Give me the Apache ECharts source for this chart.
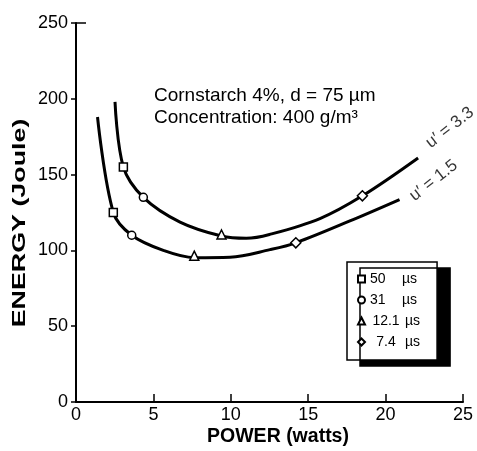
<!DOCTYPE html>
<html>
<head>
<meta charset="utf-8">
<script src="https://cdn.jsdelivr.net/npm/echarts@6/dist/echarts.min.js"></script>
<style>
html,body{margin:0;padding:0;background:#fff;}
#chart{width:477px;height:451px;}
</style>
</head>
<body>
<div id="chart"></div>
<script>
// Curve u' = 3.3 (upper)
const curveUpper = [[2.52,198],[3.06,155],[4.35,135],[6.72,118.7],[9.4,109.5],[11,108],[12.5,110.5],[15.76,121],[18.5,136],[22.1,161]];
// Curve u' = 1.5 (lower)
const curveLower = [[1.39,188],[2.41,125],[3.6,110],[5.64,100],[7.64,95.2],[9.95,95.5],[12.53,100.5],[14.2,105],[17.9,120.3],[20.9,133.5]];
// Markers (spark durations)
const legendNames = ['50 µs','31 µs','12.1 µs','7.4 µs'];
const legendSymbols = ['rect','circle','triangle','diamond'];
const mk50 = [[3.06,155],[2.41,125]];
const mk31 = [[4.35,135],[3.6,110]];
const mk121 = [[9.4,110.5],[7.64,96.5]];
const mk74 = [[18.5,136],[14.2,105]];
const markerData = [mk50, mk31, mk121, mk74];
// Curve labels
const curveLabels = [{text:"u′ = 3.3", pos:[24.15,181]},{text:"u′ = 1.5", pos:[23.1,146]}];
const xTicks = {min:0, max:25, interval:5};
const yTicks = {min:0, max:250, interval:50};
const annotation = ['Cornstarch 4%, d = 75 µm', 'Concentration: 400 g/m³'];
const xName = 'POWER (watts)';
const yName = 'ENERGY (Joule)';

const FONT = '"Liberation Sans", Arial, Helvetica, sans-serif';
const chart = echarts.init(document.getElementById('chart'));

const series = [
  {type:'line', name:'u33', data:curveUpper, smooth:0.35, showSymbol:false, symbol:'none',
   lineStyle:{color:'#000', width:3}, z:2, silent:true},
  {type:'line', name:'u15', data:curveLower, smooth:0.35, showSymbol:false, symbol:'none',
   lineStyle:{color:'#000', width:3}, z:2, silent:true}
];
markerData.forEach((d,i)=>{
  series.push({type:'scatter', name:legendNames[i], data:d, symbol:legendSymbols[i],
    symbolSize: legendSymbols[i]==='diamond'?10:(legendSymbols[i]==='triangle'?9:8),
    itemStyle:{color:'#fff', borderColor:'#000', borderWidth:1.5, opacity:1}, z:5});
});
series.push({type:'scatter', name:'labels', data:curveLabels.map(l=>({value:l.pos, name:l.text})),
  symbolSize:0, z:6, silent:true,
  label:{show:true, position:'inside', formatter:p=>p.name, rotate:38, color:'#000',
    fontFamily:FONT, fontSize:17}});

chart.setOption({
  animation:false,
  backgroundColor:'#fff',
  grid:{left:76, right:14, top:23, bottom:49},
  textStyle:{fontFamily:FONT},
  xAxis:{type:'value', min:xTicks.min, max:xTicks.max, interval:xTicks.interval,
    axisLine:{show:true, onZero:false, lineStyle:{color:'#000', width:2}},
    axisTick:{show:true, inside:true, length:8, lineStyle:{color:'#000', width:1.5}},
    axisLabel:{fontFamily:FONT, fontSize:18, color:'#000', margin:4},
    splitLine:{show:false}},
  yAxis:[{type:'value', min:yTicks.min, max:yTicks.max, interval:yTicks.interval,
    axisLine:{show:true, onZero:false, lineStyle:{color:'#000', width:2}},
    axisTick:{show:true, inside:false, length:5, lineStyle:{color:'#000', width:1.5}},
    axisLabel:{fontFamily:FONT, fontSize:18, color:'#000', margin:8},
    splitLine:{show:false}},
   {type:'value', min:yTicks.min, max:yTicks.max, interval:yTicks.max, position:'left',
    axisLine:{show:false}, axisLabel:{show:false}, splitLine:{show:false},
    axisTick:{show:true, inside:true, length:10, lineStyle:{color:'#000', width:1.5}}}],
  legend:{show:true, data:legendNames, orient:'vertical', left:347, top:262,
    padding:[10,17,11,10], itemGap:7, itemWidth:7, itemHeight:7,
    backgroundColor:'#fff', borderColor:'#000', borderWidth:1.5,
    shadowColor:'#000', shadowBlur:0, shadowOffsetX:13, shadowOffsetY:6,
    itemStyle:{color:'#fff', borderColor:'#000', borderWidth:2},
    selectedMode:false,
    formatter:function(n){
      const parts = n.split(' ');
      const num = parts[0];
      const style = (num==='7.4'||num==='12.1') ? 'r' : 'n';
      return '{'+style+'|'+num+'}{u|µs}';
    },
    textStyle:{fontFamily:FONT, fontSize:14, color:'#000', lineHeight:14,
      rich:{n:{width:32, align:'left', fontSize:14, fontFamily:FONT},
            r:{width:32, align:'right', padding:[0,3,0,0], fontSize:14, fontFamily:FONT},
            u:{fontSize:14, fontFamily:FONT}}}},
  graphic:[
    {type:'text', left:154, top:86, style:{text:annotation[0], fontFamily:FONT, fontSize:19, fill:'#000'}},
    {type:'text', left:154, top:108, style:{text:annotation[1], fontFamily:FONT, fontSize:19, fill:'#000'}},
    {type:'text', x:278, y:437, style:{text:xName, fontFamily:FONT, fontSize:19.5, fontWeight:'bold', fill:'#000', align:'center', verticalAlign:'middle'}},
    {type:'text', x:20, y:223, rotation:Math.PI/2, scaleX:1.45, style:{text:yName, fontFamily:FONT, fontSize:18.5, fontWeight:'bold', fill:'#000', align:'center', verticalAlign:'middle'}}
  ],
  series:series
});
</script>
</body>
</html>
